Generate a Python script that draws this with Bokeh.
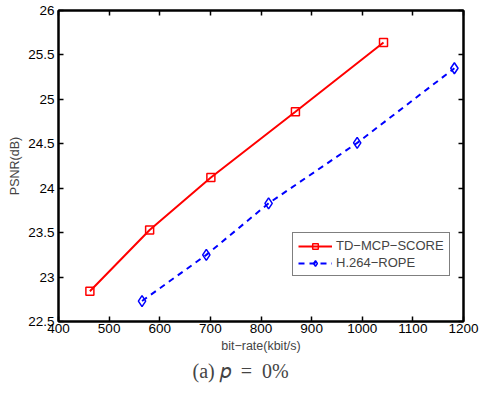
from bokeh.plotting import figure
from bokeh.models import LinearAxis, Legend, LegendItem, Title, FixedTicker, Range1d
from bokeh.embed import file_html
from bokeh.resources import INLINE

td_rate = [462, 580, 701, 868, 1042]
td_psnr = [22.84, 23.53, 24.12, 24.86, 25.64]
h264_rate = [565, 692, 815, 990, 1182]
h264_psnr = [22.73, 23.25, 23.83, 24.51, 25.35]
x_ticks = [400, 500, 600, 700, 800, 900, 1000, 1100, 1200]
y_ticks = [22.5, 23, 23.5, 24, 24.5, 25, 25.5, 26]
y_tick_labels = {22.5: "22.5", 23: "23", 23.5: "23.5", 24: "24", 24.5: "24.5", 25: "25", 25.5: "25.5", 26: "26"}

FONT = "Liberation Sans"

p = figure(width=479, height=396, output_backend="svg", toolbar_location=None,
           x_range=Range1d(400, 1200), y_range=Range1d(22.5, 26),
           min_border_left=58, min_border_right=16, min_border_top=10, min_border_bottom=75)
p.xaxis.visible = False
p.yaxis.visible = False
p.grid.visible = False
p.outline_line_color = "black"
p.outline_line_width = 2

def style(ax):
    ax.major_tick_in = 5
    ax.major_tick_out = 0
    ax.minor_tick_line_color = None
    ax.axis_line_width = 2
    ax.major_tick_line_width = 1.5
    ax.major_label_text_font = FONT
    ax.major_label_text_font_size = "13.5px"
    ax.major_label_text_color = "black"
    ax.major_label_standoff = 4
    ax.axis_label_text_font = FONT
    ax.axis_label_text_font_size = "12.5px"
    ax.axis_label_text_font_style = "normal"
    ax.axis_label_standoff = 3

xb = LinearAxis(ticker=FixedTicker(ticks=x_ticks), axis_label="bit\u2212rate(kbit/s)")
style(xb)
xb.major_label_standoff = 2
yl = LinearAxis(ticker=FixedTicker(ticks=y_ticks), axis_label="PSNR(dB)",
                major_label_overrides=y_tick_labels)
style(yl)
xt = LinearAxis(ticker=FixedTicker(ticks=x_ticks),
                major_label_overrides={t: "" for t in x_ticks})
style(xt)
xt.major_label_standoff = 0
yr = LinearAxis(ticker=FixedTicker(ticks=y_ticks),
                major_label_overrides={t: "" for t in y_ticks})
style(yr)
yr.major_label_standoff = 0
p.add_layout(xb, "below")
p.add_layout(yl, "left")
p.add_layout(xt, "above")
p.add_layout(yr, "right")

r1 = p.line(td_rate, td_psnr, line_color="red", line_width=2)
m1 = p.scatter(td_rate, td_psnr, marker="square", size=8, fill_color=None,
               line_color="red", line_width=1.5)
r2 = p.line(h264_rate, h264_psnr, line_color="blue", line_width=2, line_dash="6 5")
m2 = p.scatter(h264_rate, h264_psnr, marker="diamond", size=11, fill_color=None,
               line_color="blue", line_width=1.5)

legend = Legend(items=[LegendItem(label="TD\u2212MCP\u2212SCORE", renderers=[r1, m1]),
                       LegendItem(label="H.264\u2212ROPE", renderers=[r2, m2])],
                location=(234, 45))
legend.border_line_color = "black"
legend.border_line_width = 1
legend.label_text_font = FONT
legend.label_text_font_size = "13px"
legend.glyph_width = 34
legend.glyph_height = 14
legend.label_height = 14
legend.spacing = 2
legend.padding = 5
legend.margin = 0
legend.label_standoff = 4
legend.background_fill_alpha = 1
p.add_layout(legend, "center")

cap = Title(text="(a) \U0001D45D\u2002=\u20020%", align="left", offset=134,
            text_font="Liberation Serif",
            text_font_size="20px", text_font_style="normal", standoff=4)
p.add_layout(cap, "below")

open("out.html", "w").write(file_html(p, INLINE))
